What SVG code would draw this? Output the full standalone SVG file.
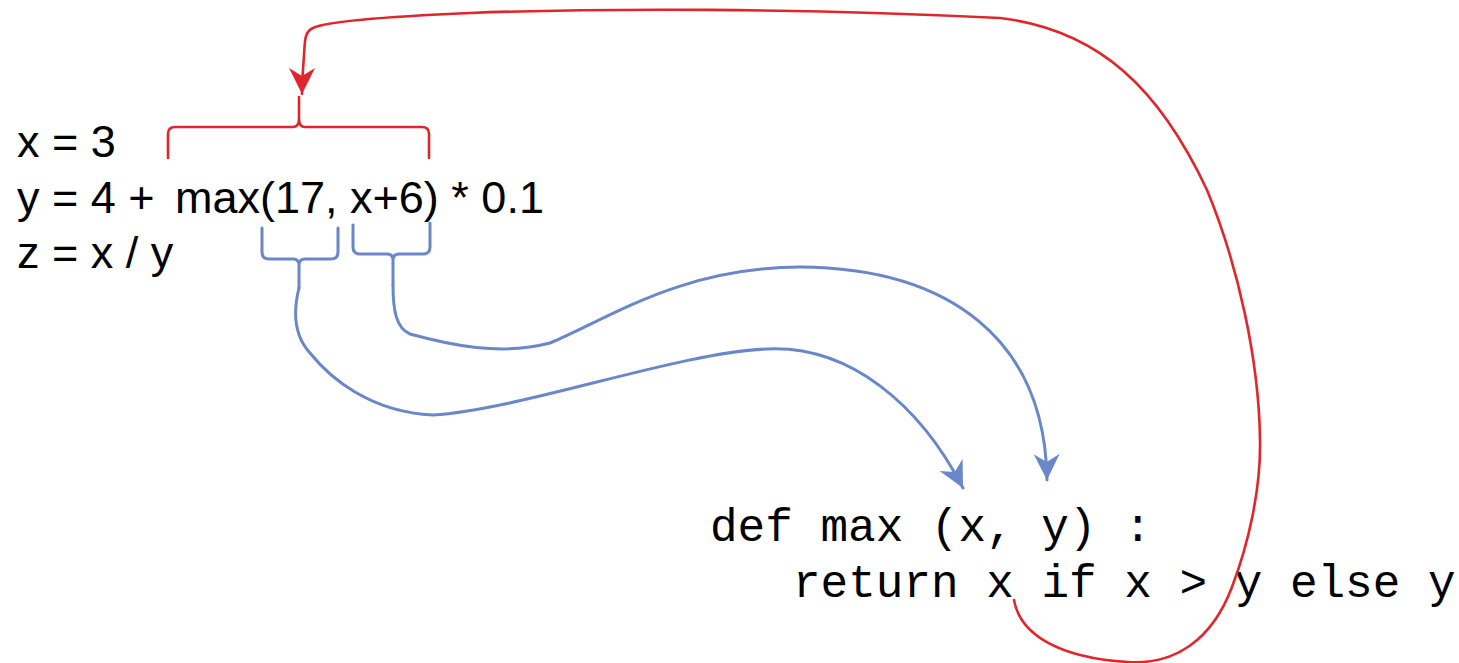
<svg xmlns="http://www.w3.org/2000/svg" width="1459" height="663" viewBox="0 0 1459 663">
  <style>
    .sans { font-family: "Liberation Sans", Arial, sans-serif; font-size: 45px; fill: #000; }
    .mono { font-family: "Liberation Mono", "Courier New", monospace; font-size: 46px; fill: #000; }
    .red { fill: none; stroke: #e0262a; stroke-width: 2.6; stroke-linecap: round; stroke-linejoin: round; }
    .blue { fill: none; stroke: #6a87c9; stroke-width: 3; stroke-linecap: round; stroke-linejoin: round; }
  </style>
  <defs>
    <marker id="ahRed" markerUnits="userSpaceOnUse" markerWidth="28" markerHeight="26" refX="26" refY="13" orient="auto" viewBox="0 0 28 26">
      <path d="M0,0 L26,13 L0,26 L8,13 Z" fill="#e0262a"/>
    </marker>
    <marker id="ahBlue" markerUnits="userSpaceOnUse" markerWidth="28" markerHeight="26" refX="26" refY="13" orient="auto" viewBox="0 0 28 26">
      <path d="M0,0 L26,13 L0,26 L8,13 Z" fill="#6a87c9"/>
    </marker>
  </defs>

  <g id="caller-code">
    <text class="sans" x="17" y="157">x = 3</text>
    <text class="sans" y="213"><tspan x="17">y = 4 + </tspan><tspan x="175">max(17, x+6) * 0.1</tspan></text>
    <text class="sans" x="17" y="268">z = x / y</text>
  </g>

  <g id="function-def">
    <text class="mono" x="710" y="541">def max (x, y) :</text>
    <text class="mono" x="793" y="597">return x if x &gt; y else y</text>
  </g>

  <g id="brace-call">
    <path class="red" d="M168 158 L168 134 Q168 127 175 127 L293 127 Q299 127 299 119 L299 97 M429 158 L429 134 Q429 127 422 127 L305 127 Q299 127 299 119"/>
  </g>

  <g id="brace-arg1">
    <path class="blue" d="M262 228 L262 252 Q262 259 269 259 L293 259 Q299 259 299 265 L299 288 M338 228 L338 252 Q338 259 331 259 L305 259 Q299 259 299 265"/>
  </g>

  <g id="brace-arg2">
    <path class="blue" d="M353 225 L353 247 Q353 254 360 254 L387 254 Q393 254 393 260 L393 285 M430 223 L430 247 Q430 254 423 254 L399 254 Q393 254 393 260"/>
  </g>

  <g id="connectors">
    <path class="blue" marker-end="url(#ahBlue)" d="M299 288 C296 300, 289 330, 310 353 C330 378, 370 412, 433 415 C520 410, 680 352, 767 349 C850 345, 920 405, 963 488"/>
    <path class="blue" marker-end="url(#ahBlue)" d="M393 285 C393 310, 396 328, 410 334 C450 345, 500 356, 550 343 C610 318, 680 268, 800 267 C950 268, 1045 340, 1047 480"/>
    <path class="red" marker-end="url(#ahRed)" d="M1014 600 C1020 635, 1060 658, 1128 662 C1175 665, 1212 640, 1232 587 C1248 545, 1261 490, 1260 440 C1259 360, 1238 265, 1207 190 C1160 90, 1100 30, 1000 18 C800 8, 600 8, 470 13 C400 16, 330 20, 313 28 C304 32, 305 42, 304 55 C303 70, 302 80, 302 94"/>
  </g>
</svg>
